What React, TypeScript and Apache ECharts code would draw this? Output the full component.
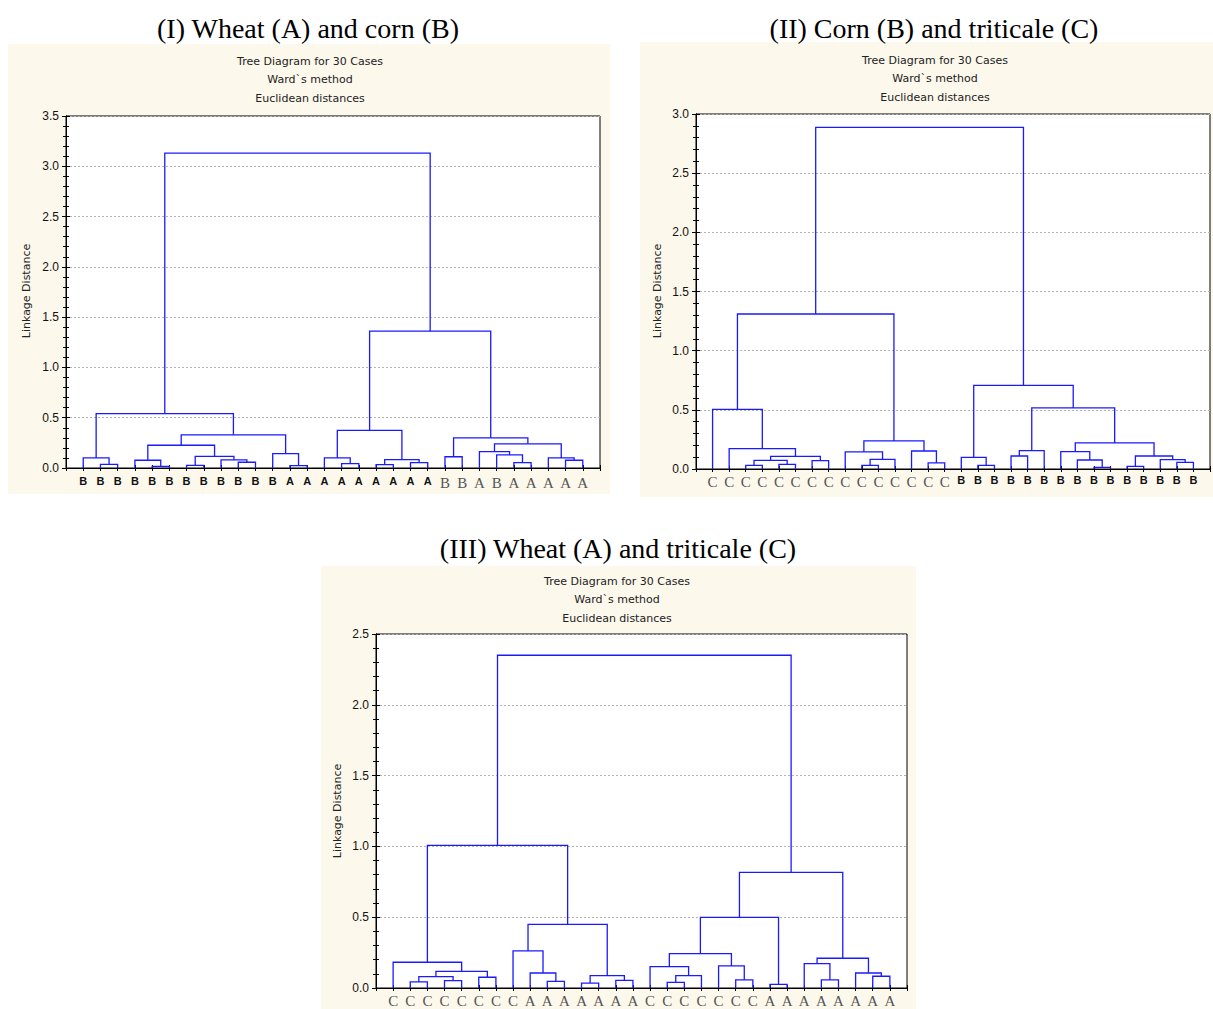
import React, { useEffect, useRef } from 'react';
import * as echarts from 'echarts';

// ---------- DATA ----------
// leaf labels (display order, left to right)
const leavesI = ['B','B','B','B','B','B','B','B','B','B','B','B','A','A','A','A','A','A','A','A','A','B','B','A','B','A','A','A','A','A'];
const leavesII = ['C','C','C','C','C','C','C','C','C','C','C','C','C','C','C','B','B','B','B','B','B','B','B','B','B','B','B','B','B','B'];
const leavesIII = ['C','C','C','C','C','C','C','C','A','A','A','A','A','A','A','C','C','C','C','C','C','C','A','A','A','A','A','A','A','A'];

// merges: [nodeA, nodeB, linkage distance]; positive = leaf index (1-based), negative = earlier merge (1-based)
const mergesI = [
  [2, 3, 0.037], [1, -1, 0.10], [5, 6, 0.017], [4, -3, 0.077], [7, 8, 0.027],
  [10, 11, 0.057], [9, -6, 0.08], [-5, -7, 0.116], [-4, -8, 0.226], [13, 14, 0.023],
  [12, -10, 0.142], [-9, -11, 0.33], [-2, -12, 0.54], [16, 17, 0.043], [15, -14, 0.10],
  [18, 19, 0.033], [20, 21, 0.053], [-16, -17, 0.083], [-15, -18, 0.375], [22, 23, 0.112],
  [26, 27, 0.053], [25, -21, 0.13], [24, -22, 0.162], [29, 30, 0.077], [28, -24, 0.10],
  [-23, -25, 0.24], [-20, -26, 0.30], [-19, -27, 1.36], [-13, -28, 3.13],
];
const mergesII = [
  [3, 4, 0.031], [5, 6, 0.039], [-1, -2, 0.073], [7, 8, 0.070], [-3, -4, 0.107],
  [2, -5, 0.172], [1, -6, 0.504], [10, 11, 0.031], [-8, 12, 0.081], [9, -9, 0.144],
  [14, 15, 0.051], [13, -11, 0.152], [-10, -12, 0.237], [-7, -13, 1.31], [17, 18, 0.031],
  [16, -15, 0.098], [19, 20, 0.110], [-17, 21, 0.155], [24, 25, 0.014], [23, -19, 0.076],
  [22, -20, 0.146], [26, 27, 0.022], [29, 30, 0.056], [28, -23, 0.079], [-22, -24, 0.110],
  [-21, -25, 0.22], [-18, -26, 0.516], [-16, -27, 0.707], [-14, -28, 2.887],
];
const mergesIII = [
  [2, 3, 0.043], [4, 5, 0.052], [-1, -2, 0.08], [6, 7, 0.076], [-3, -4, 0.118],
  [1, -5, 0.182], [10, 11, 0.047], [9, -7, 0.106], [8, -8, 0.262], [12, 13, 0.035],
  [14, 15, 0.054], [-10, -11, 0.087], [-9, -12, 0.45], [-6, -13, 1.007], [17, 18, 0.04],
  [-15, 19, 0.087], [16, -16, 0.151], [21, 22, 0.057], [20, -18, 0.156], [-17, -19, 0.243],
  [23, 24, 0.026], [-20, -21, 0.499], [26, 27, 0.057], [25, -23, 0.172], [29, 30, 0.083],
  [28, -25, 0.106], [-24, -26, 0.21], [-22, -27, 0.816], [-14, -28, 2.35],
];

const panelTitles = ['(I) Wheat (A) and corn (B)', '(II) Corn (B) and triticale (C)', '(III) Wheat (A) and triticale (C)'];
const subTitles = ['Tree Diagram for 30 Cases', 'Ward`s method', 'Euclidean distances'];
const yAxisName = 'Linkage Distance';
const yMaxes = [3.5, 3.0, 2.5];

// ---------- STYLE / LAYOUT ----------
// label font kind per leaf: b = bold sans, s = serif
const labelFontI = 'bbbbbbbbbbbbbbbbbbbbbsssssssss';
const labelFontII = 'sssssssssssssssbbbbbbbbbbbbbbb';
const labelFontIII = 'ssssssssssssssssssssssssssssss';

const layout = [
  { bg: [8, 44, 602, 450], title: [308, 28], sub: [310, 61], yname: [26, 291], grid: { left: 66, top: 116, width: 534, height: 352 } },
  { bg: [640, 42, 580, 455], title: [934, 28], sub: [935, 60], yname: [657, 291], grid: { left: 696, top: 114, width: 524, height: 355 } },
  { bg: [321, 566, 595, 443], title: [618, 548], sub: [617, 581], yname: [337, 811], grid: { left: 376, top: 634, width: 531, height: 354 } },
];

function buildSegments(merges: number[][]) {
  const mx: number[] = [];
  const mh: number[] = [];
  const pos = (id: number) => (id > 0 ? [id, 0] : [mx[-id - 1], mh[-id - 1]]);
  return merges.map(([a, b, h]) => {
    const [xa, ha] = pos(a);
    const [xb, hb] = pos(b);
    mx.push((xa + xb) / 2);
    mh.push(h);
    return [xa, ha, xb, hb, h];
  });
}

const SANS = 'Liberation Sans, Arial, sans-serif';
const WIDE = 'DejaVu Sans, Verdana, sans-serif';
const SERIF = 'Liberation Serif, Times New Roman, serif';

export default function App() {
  const ref = useRef<HTMLDivElement>(null);
  useEffect(() => {
    if (!ref.current) return;
    const chart = echarts.init(ref.current, undefined, { renderer: 'svg' });
    const panels = [
      { leaves: leavesI, fonts: labelFontI, merges: mergesI },
      { leaves: leavesII, fonts: labelFontII, merges: mergesII },
      { leaves: leavesIII, fonts: labelFontIII, merges: mergesIII },
    ];
    const grids: any[] = [];
    const xAxes: any[] = [];
    const yAxes: any[] = [];
    const series: any[] = [];
    const graphics: any[] = [];

    panels.forEach((p, i) => {
      const L = layout[i];
      grids.push({ ...L.grid, show: true, backgroundColor: '#ffffff', borderColor: '#000', borderWidth: 1 });
      const rich = {
        b: { fontFamily: SANS, fontWeight: 'bold', fontSize: 11, color: '#111' },
        s: { fontFamily: SERIF, fontSize: 15, color: '#555' },
      };
      xAxes.push({
        type: 'value', gridIndex: i, min: 0, max: 31, interval: 1, position: 'bottom',
        axisLine: { show: true, lineStyle: { color: '#000', width: 1 } },
        axisTick: { show: true, inside: true, length: 3, lineStyle: { color: '#000' } },
        splitLine: { show: false },
        axisLabel: {
          show: true, margin: i === 0 ? 7 : 5,
          formatter: (v: number) => {
            const k = Math.round(v);
            if (k < 1 || k > 30) return '';
            return `{${p.fonts[k - 1]}|${p.leaves[k - 1]}}`;
          },
          rich,
        },
      });
      xAxes.push({
        type: 'value', gridIndex: i, min: 0, max: 31, interval: 1, position: 'top',
        axisLine: { show: true, lineStyle: { color: '#000', width: 1 } },
        axisTick: { show: true, inside: true, length: 3, lineStyle: { color: '#000' } },
        splitLine: { show: false }, axisLabel: { show: false },
      });
      yAxes.push({
        type: 'value', gridIndex: i, min: 0, max: yMaxes[i], interval: 0.5, position: 'left',
        axisLine: { show: true, lineStyle: { color: '#000', width: 1 } },
        axisTick: { show: true, inside: true, length: 4, lineStyle: { color: '#000' } },
        minorTick: { show: true, splitNumber: 5, length: 3, lineStyle: { color: '#000' } },
        splitLine: { show: true, lineStyle: { color: '#b4b4b4', type: [2, 2], width: 1 } },
        axisLabel: { show: true, margin: 7, fontFamily: SANS, fontSize: 12, color: '#111', formatter: (v: number) => v.toFixed(1) },
      });
      yAxes.push({
        type: 'value', gridIndex: i, min: 0, max: yMaxes[i], interval: 0.5, position: 'right',
        axisLine: { show: true, lineStyle: { color: '#000', width: 1 } },
        axisTick: { show: true, inside: true, length: 4, lineStyle: { color: '#000' } },
        minorTick: { show: true, splitNumber: 5, length: 3, lineStyle: { color: '#000' } },
        splitLine: { show: false }, axisLabel: { show: false },
      });
      series.push({
        type: 'custom',
        xAxisIndex: 2 * i,
        yAxisIndex: 2 * i,
        clip: false,
        data: buildSegments(p.merges),
        encode: { x: [0, 2], y: [1, 3, 4] },
        renderItem: (_params: any, api: any) => {
          const p1 = api.coord([api.value(0), api.value(1)]);
          const p2 = api.coord([api.value(0), api.value(4)]);
          const p3 = api.coord([api.value(2), api.value(4)]);
          const p4 = api.coord([api.value(2), api.value(3)]);
          return {
            type: 'polyline',
            shape: { points: [p1, p2, p3, p4] },
            style: { stroke: '#1a1aff', fill: 'none', lineWidth: 1.3 },
          };
        },
      });

      const [bx, by, bw, bh] = L.bg;
      graphics.push({ type: 'rect', z: -100, shape: { x: bx, y: by, width: bw, height: bh }, style: { fill: '#fcf8ec' } });
      graphics.push({
        type: 'text', z: 100, x: L.title[0], y: L.title[1],
        style: { text: panelTitles[i], font: `28px ${SERIF}`, fill: '#000', textAlign: 'center', textVerticalAlign: 'middle' },
      });
      subTitles.forEach((t, j) => {
        graphics.push({
          type: 'text', z: 100, x: L.sub[0], y: L.sub[1] + j * 18.5,
          style: { text: t, font: `11px ${WIDE}`, fill: '#222', textAlign: 'center', textVerticalAlign: 'middle' },
        });
      });
      graphics.push({
        type: 'text', z: 100, x: L.yname[0], y: L.yname[1], rotation: Math.PI / 2,
        style: { text: yAxisName, font: `11px ${WIDE}`, fill: '#222', textAlign: 'center', textVerticalAlign: 'middle' },
      });
    });

    chart.setOption({
      animation: false,
      backgroundColor: '#ffffff',
      grid: grids,
      xAxis: xAxes,
      yAxis: yAxes,
      series,
      graphic: { elements: graphics },
    });
    return () => chart.dispose();
  }, []);
  return <div ref={ref} style={{ position: 'fixed', left: 0, top: 0, width: 1213, height: 1009 }} />;
}
